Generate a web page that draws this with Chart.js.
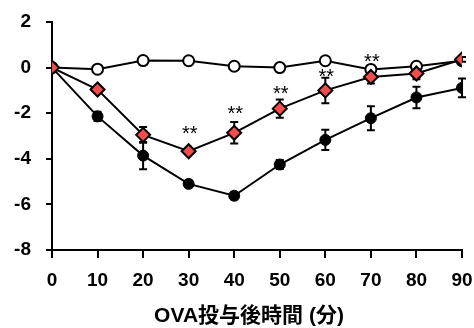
<!DOCTYPE html>
<html>
<head>
<meta charset="utf-8">
<script src="https://cdn.jsdelivr.net/npm/chart.js@4.4.0/dist/chart.umd.min.js"></script>
<style>
  html, body { margin: 0; padding: 0; background: #fff; }
  #wrap { width: 474px; height: 328px; }
</style>
</head>
<body>
<div id="wrap"><canvas id="chart"></canvas></div>
<script>
// minutes after OVA
const times = [0, 10, 20, 30, 40, 50, 60, 70, 80, 90];

// open circles
const controlMean = [0, -0.07, 0.31, 0.3, 0.06, 0.0, 0.3, -0.08, 0.06, 0.3];
const controlErr  = [0, 0, 0, 0, 0, 0, 0, 0, 0, 0];

// red diamonds
const treatedMean = [0, -0.96, -2.95, -3.67, -2.86, -1.8, -1.0, -0.41, -0.26, 0.36];
const treatedErr  = [0, 0.1, 0.35, 0.1, 0.47, 0.4, 0.56, 0.29, 0.25, 0.1];

// filled circles
const ovaMean = [0, -2.14, -3.86, -5.1, -5.62, -4.25, -3.17, -2.22, -1.31, -0.89];
const ovaErr  = [0, 0.2, 0.6, 0.15, 0.15, 0.2, 0.44, 0.53, 0.47, 0.41];

// significance marks
const starTimes = [30, 40, 50, 60, 70];
const starY     = [-2.68, -1.78, -0.92, -0.15, 0.47];
const starText  = '**';

const xTitle = 'OVA投与後時間 (分)';

const FONT = "'Liberation Sans', Arial, 'Noto Sans CJK JP', sans-serif";

const toPoints = (ys, errs) => times.map((t, i) => ({x: t, y: ys[i], err: errs[i]}));

// error bars drawn under the markers
const errorBars = {
    id: 'errorBars',
    beforeDatasetsDraw(chart) {
        const ctx = chart.ctx;
        const xs = chart.scales.x, ys = chart.scales.y;
        ctx.save();
        ctx.strokeStyle = '#000';
        ctx.lineWidth = 2;
        chart.data.datasets.forEach(ds => {
            ds.data.forEach(p => {
                if (!p.err) return;
                const px = xs.getPixelForValue(p.x);
                const top = ys.getPixelForValue(p.y + p.err);
                const bot = ys.getPixelForValue(p.y - p.err);
                ctx.beginPath();
                ctx.moveTo(px, top); ctx.lineTo(px, bot);
                ctx.moveTo(px - 4, top); ctx.lineTo(px + 4, top);
                ctx.moveTo(px - 4, bot); ctx.lineTo(px + 4, bot);
                ctx.stroke();
            });
        });
        ctx.restore();
    }
};

// asterisks + axis title
const labels = {
    id: 'labels',
    afterDatasetsDraw(chart) {
        const ctx = chart.ctx;
        const xs = chart.scales.x, ys = chart.scales.y;
        ctx.save();
        ctx.fillStyle = '#000';
        ctx.font = "20px " + FONT;
        ctx.textAlign = 'center';
        ctx.textBaseline = 'alphabetic';
        starTimes.forEach((t, i) => {
            ctx.fillText(starText, xs.getPixelForValue(t) + 1, ys.getPixelForValue(starY[i]) + 11.5);
        });
        ctx.font = "bold 21px " + FONT;
        ctx.textBaseline = 'middle';
        ctx.fillText(xTitle, (xs.left + xs.right) / 2 - 8, 316);
        ctx.restore();
    }
};

// keep the plot box where the layout padding puts it
const noOverhang = (s) => {
    s.paddingTop = 0; s.paddingBottom = 0;
    s.paddingLeft = 0; s.paddingRight = 0;
};

const chartConfig = {
    type: 'line',
    data: {
        datasets: [
            {
                label: 'treated',
                data: toPoints(treatedMean, treatedErr),
                borderColor: '#000',
                borderWidth: 2,
                pointStyle: 'rectRot',
                pointRadius: 7,
                pointBackgroundColor: '#f24c4c',
                pointBorderColor: '#000',
                pointBorderWidth: 2,
                order: 1
            },
            {
                label: 'control',
                data: toPoints(controlMean, controlErr),
                borderColor: '#000',
                borderWidth: 2,
                pointStyle: 'circle',
                pointRadius: 5.5,
                pointBackgroundColor: '#fff',
                pointBorderColor: '#000',
                pointBorderWidth: 2,
                order: 2
            },
            {
                label: 'ova',
                data: toPoints(ovaMean, ovaErr),
                borderColor: '#000',
                borderWidth: 2,
                pointStyle: 'circle',
                pointRadius: 5.5,
                pointBackgroundColor: '#000',
                pointBorderColor: '#000',
                pointBorderWidth: 1,
                order: 3
            }
        ]
    },
    options: {
        responsive: true,
        maintainAspectRatio: false,
        animation: false,
        layout: {padding: {top: 22, right: 12, left: 0, bottom: 0}},
        plugins: {
            legend: {display: false},
            tooltip: {enabled: false}
        },
        scales: {
            x: {
                type: 'linear',
                min: 0,
                max: 90,
                ticks: {stepSize: 10, color: '#000', padding: 11,
                        font: {family: FONT, size: 19, weight: 'bold'}},
                grid: {drawOnChartArea: false, drawTicks: true, tickLength: 8,
                       color: '#000', lineWidth: 2},
                border: {color: '#000', width: 2},
                afterFit: (s) => { s.height = 78; noOverhang(s); }
            },
            y: {
                min: -8,
                max: 2,
                ticks: {stepSize: 2, color: '#000', padding: 15,
                        font: {family: FONT, size: 19, weight: 'bold'}},
                grid: {drawOnChartArea: false, drawTicks: true, tickLength: 6,
                       color: '#000', lineWidth: 2},
                border: {color: '#000', width: 2},
                afterFit: (s) => { s.width = 52; noOverhang(s); }
            }
        }
    },
    plugins: [errorBars, labels]
};

new Chart(document.getElementById('chart'), chartConfig);
</script>
</body>
</html>
